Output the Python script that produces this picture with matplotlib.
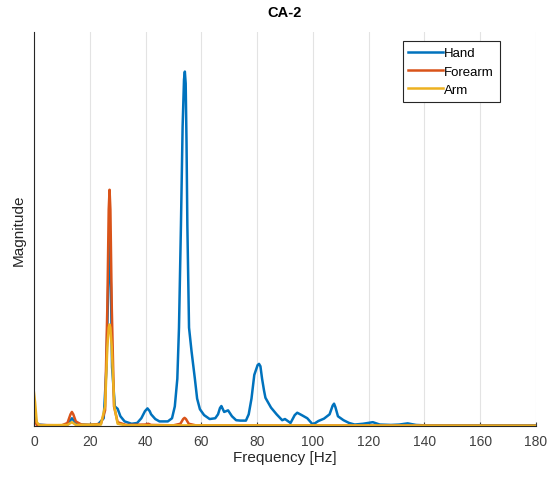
import numpy as np
import matplotlib
matplotlib.use("Agg")
import matplotlib.pyplot as plt

plt.rcParams['font.family'] = ['Liberation Sans', 'DejaVu Sans']

# Espectros (frecuencia en Hz, magnitud normalizada)
freqHand = [0, 0.5, 1.2, 5, 10, 12, 13.6, 15, 17, 20, 23, 25, 26, 26.6, 27.1, 27.6, 28, 29, 30, 31,
            32.5, 35, 37, 38.5, 39.8, 40.7, 41.5, 42, 43.5, 45, 47, 48, 49.5, 50.5, 51.4, 52, 52.7,
            53.3, 53.8, 54.1, 54.4, 54.7, 55, 55.6, 56.5, 57.7, 58.5, 59.5, 61, 63, 65, 66, 66.7,
            67.2, 67.8, 68.2, 69.6, 71, 72.5, 74, 76, 77, 78, 79, 80.2, 80.7, 81.2, 81.8, 82.5, 83,
            85, 87, 89, 90, 92, 93.5, 94.4, 95.2, 96, 98, 100, 102, 104, 106, 107.1, 107.6, 108.1,
            109, 111, 113, 115, 118, 121.5, 124, 128, 131, 134, 137, 140, 150, 160, 170, 180]
magHand = [0.04, 0.02, 0.004, 0.002, 0.002, 0.004, 0.02, 0.008, 0.004, 0.003, 0.005, 0.02, 0.15, 0.35,
           0.48, 0.35, 0.15, 0.05, 0.044, 0.025, 0.012, 0.006, 0.008, 0.02, 0.038, 0.045, 0.038, 0.03,
           0.018, 0.012, 0.012, 0.012, 0.02, 0.05, 0.12, 0.25, 0.51, 0.76, 0.88, 0.90, 0.87, 0.72, 0.51,
           0.25, 0.19, 0.12, 0.07, 0.043, 0.028, 0.018, 0.02, 0.03, 0.046, 0.051, 0.042, 0.036, 0.04,
           0.025, 0.015, 0.014, 0.014, 0.03, 0.07, 0.13, 0.155, 0.158, 0.152, 0.12, 0.09, 0.072, 0.047,
           0.03, 0.015, 0.018, 0.008, 0.028, 0.034, 0.031, 0.028, 0.02, 0.004, 0.013, 0.019, 0.03,
           0.052, 0.057, 0.048, 0.025, 0.015, 0.008, 0.004, 0.006, 0.01, 0.004, 0.003, 0.004, 0.007,
           0.003, 0.002, 0.002, 0.002, 0.002, 0.002]

freqForearm = [0, 1, 10, 12, 13.1, 13.6, 14.1, 15, 17, 20, 24, 25.5, 26.3, 26.8, 27.1, 27.4, 27.9,
               28.7, 30, 33, 40, 41, 42, 50, 52.5, 53.5, 54, 54.5, 55.5, 58, 180]
magForearm = [0.02, 0.003, 0.002, 0.008, 0.03, 0.036, 0.03, 0.012, 0.004, 0.003, 0.006, 0.04, 0.3,
              0.55, 0.60, 0.55, 0.3, 0.05, 0.01, 0.003, 0.004, 0.006, 0.003, 0.002, 0.006, 0.018, 0.021,
              0.018, 0.006, 0.002, 0.001]

freqArm = [0, 0.4, 1, 2, 12, 13.6, 15, 24, 25.5, 26.3, 26.8, 27.1, 27.4, 27.9, 28.8, 30, 33, 180]
magArm = [0.085, 0.06, 0.01, 0.002, 0.003, 0.01, 0.003, 0.004, 0.05, 0.2, 0.25, 0.258, 0.25, 0.2,
          0.05, 0.006, 0.002, 0.001]

etiquetas = ['Hand', 'Forearm', 'Arm']
colores = ['#0072BD', '#D95319', '#EDB120']

fig = plt.figure(figsize=(5.48, 4.81), dpi=100)
ax = fig.add_axes([0.062, 0.112, 0.916, 0.819])

ax.plot(freqHand, magHand, color=colores[0], lw=1.8, label=etiquetas[0])
ax.plot(freqForearm, magForearm, color=colores[1], lw=1.8, label=etiquetas[1])
ax.plot(freqArm, magArm, color=colores[2], lw=1.8, label=etiquetas[2])

ax.set_xlim(0, 180)
ax.set_ylim(0, 1)
ax.set_xticks(np.arange(0, 181, 20))
ax.set_yticks([])
ax.tick_params(axis='x', direction='in', length=3, labelsize=10, colors='#404040', pad=6)
ax.grid(axis='x', color='#e3e3e3', lw=0.8)
ax.set_axisbelow(True)
for lado in ['top', 'right']:
    ax.spines[lado].set_visible(False)
for lado in ['left', 'bottom']:
    ax.spines[lado].set_color('#262626')
    ax.spines[lado].set_linewidth(0.8)

ax.set_xlabel('Frequency [Hz]', fontsize=11, color='#262626', labelpad=1)
ax.set_ylabel('Magnitude', fontsize=11, color='#262626', labelpad=6)
ax.set_title('CA-2', fontsize=10.5, fontweight='bold', pad=12)

leyenda = ax.legend(loc='upper right', bbox_to_anchor=(0.928, 0.977), fontsize=9.5, handlelength=2.6,
                    fancybox=False, framealpha=1, edgecolor='#262626', borderpad=0.45,
                    labelspacing=0.45, handletextpad=0.1, borderaxespad=0)
leyenda.get_frame().set_linewidth(0.8)

fig.savefig('out.png', dpi=100)
